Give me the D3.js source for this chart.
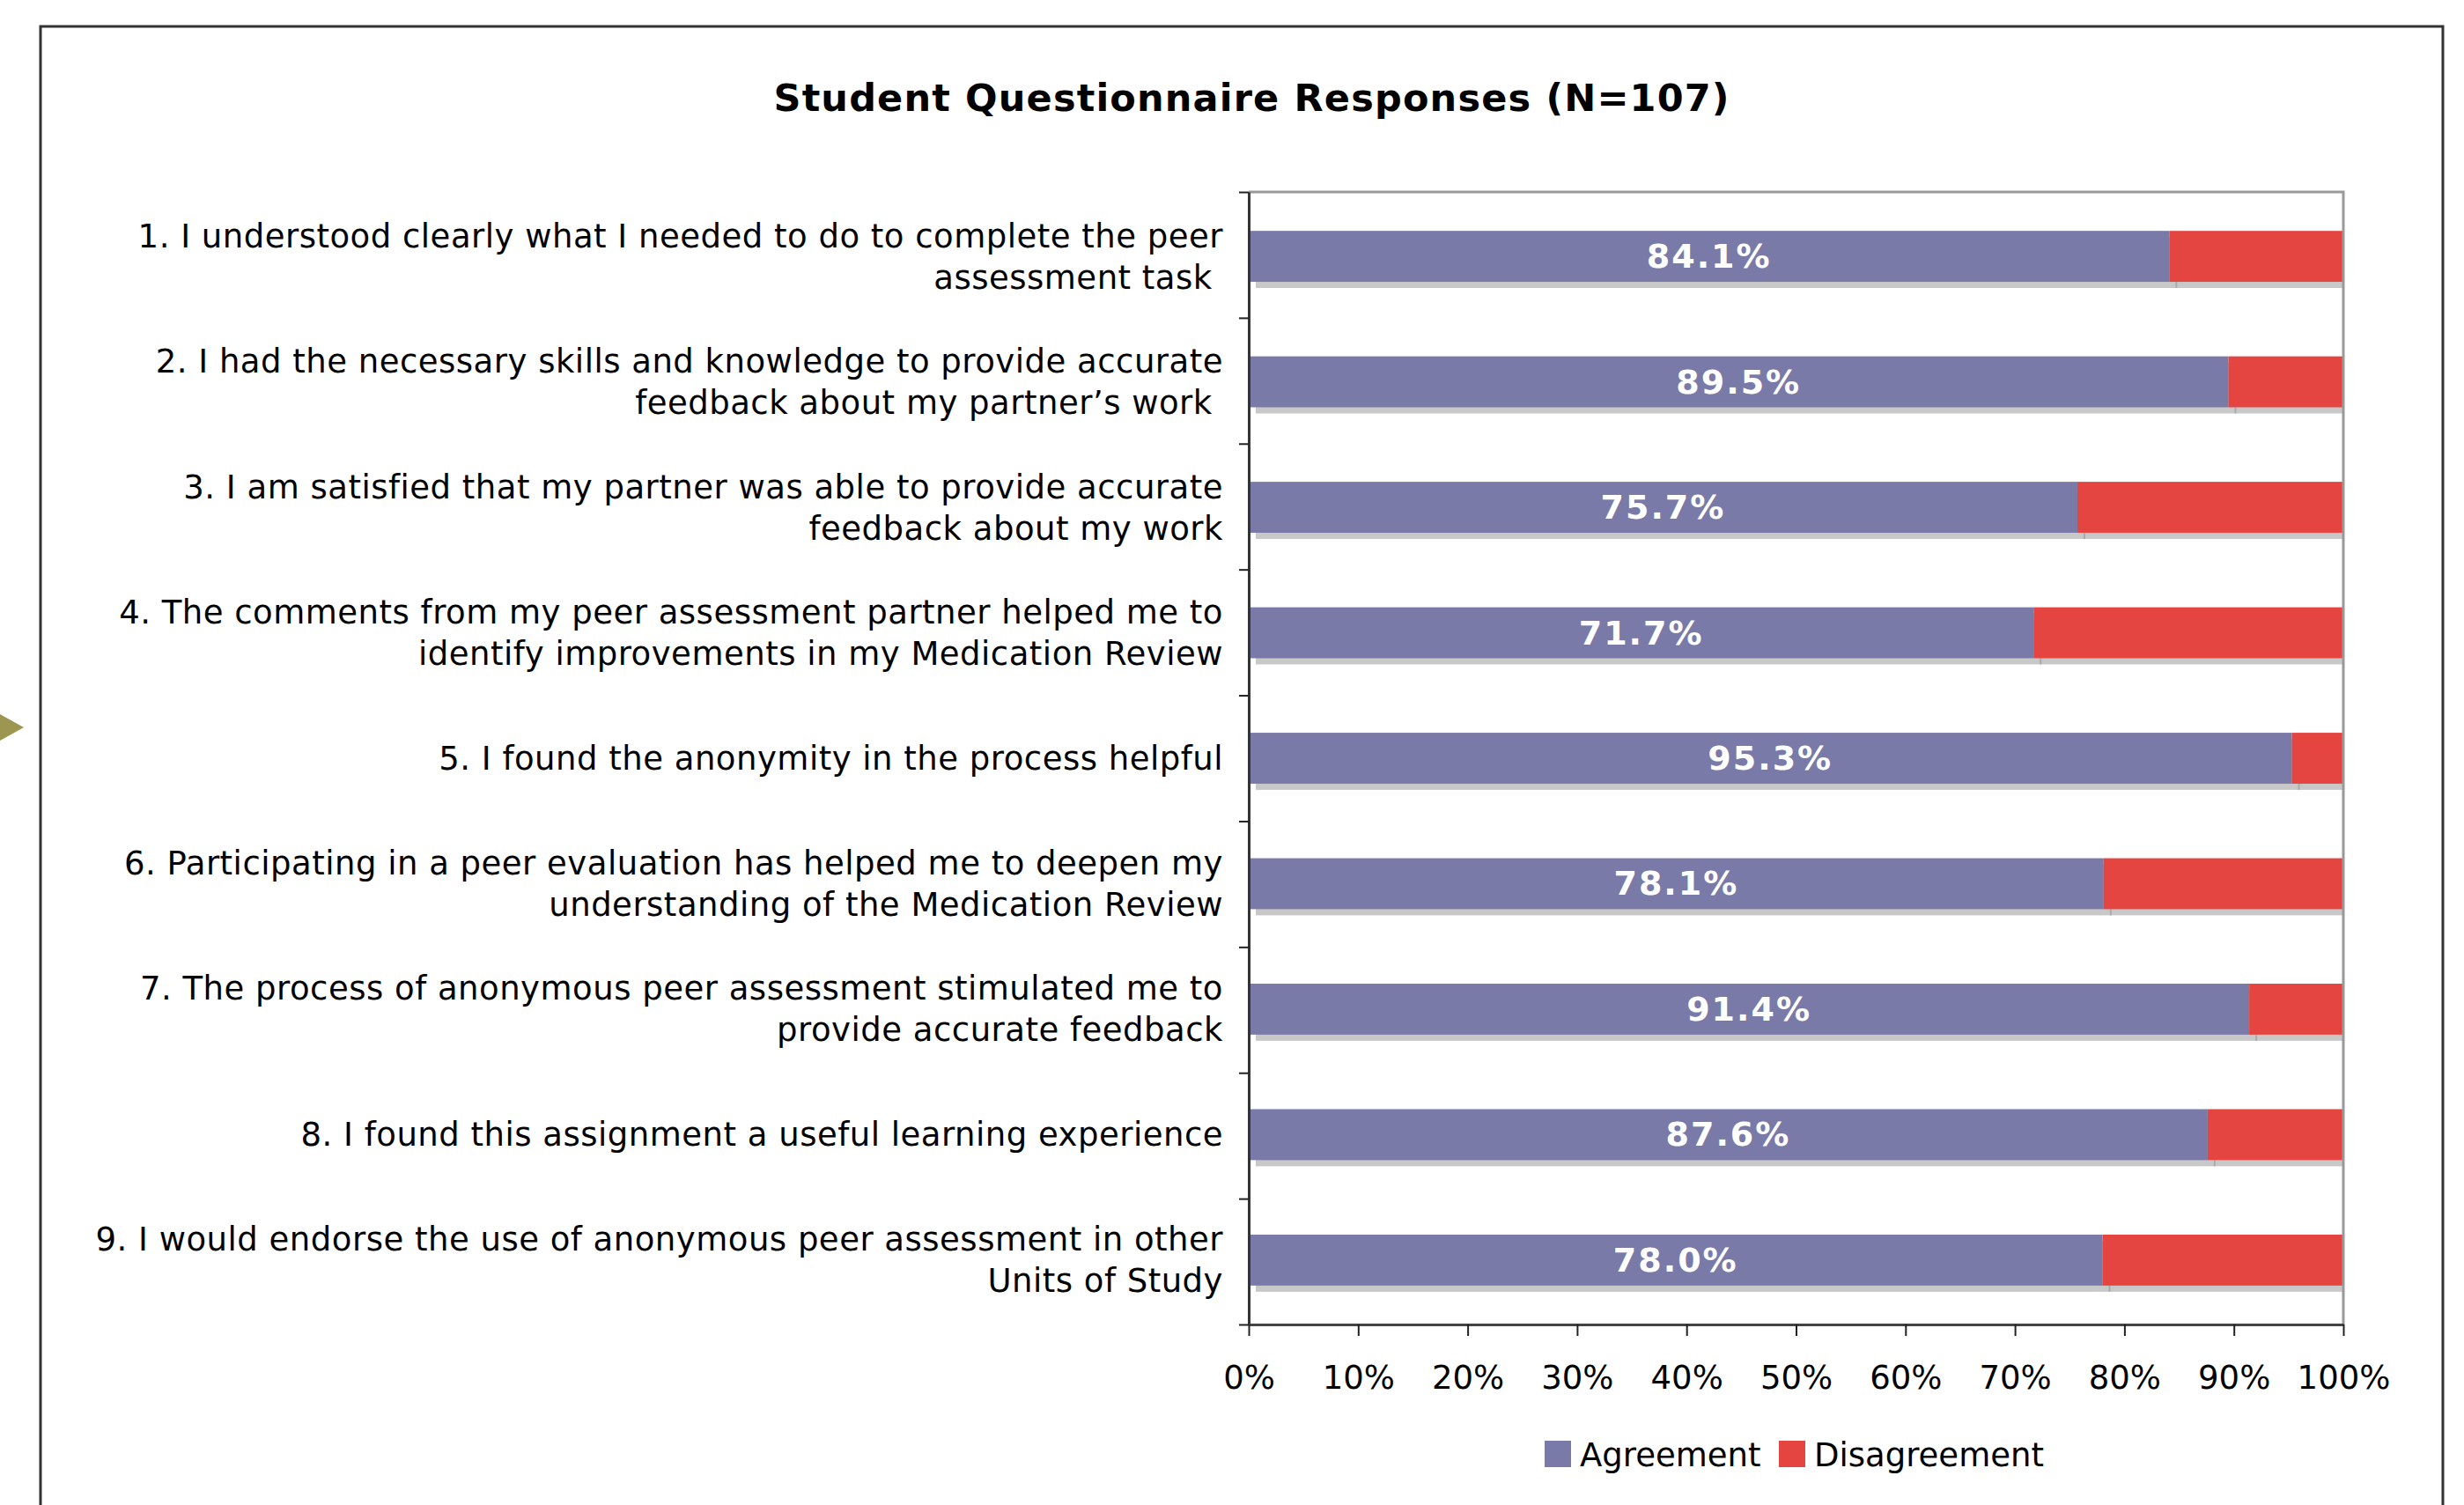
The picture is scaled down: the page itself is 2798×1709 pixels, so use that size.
<!DOCTYPE html>
<html>
<head>
<meta charset="utf-8">
<script src="https://cdn.jsdelivr.net/npm/d3@7"></script>
<style>
    body { margin: 0; background: #fff; }
    text { font-family: "DejaVu Sans", Verdana, sans-serif; }
    .cat-label { white-space: pre; }
</style>
</head>
<body>
<div id="chart"></div>
<script>
// questionnaire items, each split into its printed lines
const questions = [
    ["1. I understood clearly what I needed to do to complete the peer", "assessment task "],
    ["2. I had the necessary skills and knowledge to provide accurate", "feedback about my partner\u2019s work "],
    ["3. I am satisfied that my partner was able to provide accurate", "feedback about my work"],
    ["4. The comments from my peer assessment partner helped me to", "identify improvements in my Medication Review"],
    ["5. I found the anonymity in the process helpful"],
    ["6. Participating in a peer evaluation has helped me to deepen my", "understanding of the Medication Review"],
    ["7. The process of anonymous peer assessment stimulated me to", "provide accurate feedback"],
    ["8. I found this assignment a useful learning experience"],
    ["9. I would endorse the use of anonymous peer assessment in other", "Units of Study"]
];
const agreement = [84.1, 89.5, 75.7, 71.7, 95.3, 78.1, 91.4, 87.6, 78.0];
const disagreement = [15.9, 10.5, 24.3, 28.3, 4.7, 21.9, 8.6, 12.4, 22.0];
const seriesNames = ["Agreement", "Disagreement"];
const xTicks = [0, 10, 20, 30, 40, 50, 60, 70, 80, 90, 100];
const title = "Student Questionnaire Responses (N=107)";

const colors = {Agreement: "#7a7aa8", Disagreement: "#e54541"};

const width = 2798, height = 1709;
const plot = {left: 1418, right: 2661, top: 218, bottom: 1504};

const svg = d3.select("#chart").append("svg")
    .attr("width", width)
    .attr("height", height);

svg.append("rect")
    .attr("width", width)
    .attr("height", height)
    .attr("fill", "#fff");

// outer frame (bottom edge runs off the picture)
svg.append("rect")
    .attr("x", 46)
    .attr("y", 30)
    .attr("width", 2728)
    .attr("height", 1720)
    .attr("fill", "none")
    .attr("stroke", "#333")
    .attr("stroke-width", 3);

// little olive marker on the left edge
svg.append("path")
    .attr("d", "M0,811L27,826L0,841Z")
    .attr("fill", "#9c9650");

// Verdana bold is wider than DejaVu, stretch the title to the original width
svg.append("text")
    .attr("x", 1421)
    .attr("y", 126)
    .attr("text-anchor", "middle")
    .attr("font-size", 43)
    .attr("font-weight", "bold")
    .attr("textLength", 1085)
    .attr("lengthAdjust", "spacing")
    .text(title);

const ids = questions.map((q, i) => i);

const x = d3.scaleLinear()
    .domain([0, 100])
    .range([plot.left, plot.right]);

const y = d3.scaleBand()
    .domain(ids)
    .range([plot.top, plot.bottom])
    .paddingInner(0.594)
    .paddingOuter(0.31);

const yIndex = d3.scaleLinear()
    .domain([0, ids.length])
    .range([plot.top, plot.bottom]);

const rows = ids.map(i => ({
    id: i,
    segments: [
        {name: "Agreement", x0: 0, x1: agreement[i]},
        {name: "Disagreement", x0: agreement[i], x1: agreement[i] + disagreement[i]}
    ]
}));

svg.append("clipPath")
    .attr("id", "plot-clip")
    .append("rect")
    .attr("x", plot.left)
    .attr("y", plot.top)
    .attr("width", plot.right - plot.left - 1)
    .attr("height", plot.bottom - plot.top);

// drop shadows under the bars
const shadows = svg.append("g").attr("clip-path", "url(#plot-clip)");
rows.forEach(r => {
    r.segments.forEach(s => {
        shadows.append("rect")
            .attr("x", x(s.x0) + 8)
            .attr("y", y(r.id) + 7)
            .attr("width", x(s.x1) - x(s.x0))
            .attr("height", y.bandwidth())
            .attr("fill", "#c8c8c8");
    });
    shadows.append("line")
        .attr("x1", x(r.segments[0].x1) + 8)
        .attr("x2", x(r.segments[0].x1) + 8)
        .attr("y1", y(r.id) + y.bandwidth())
        .attr("y2", y(r.id) + y.bandwidth() + 7)
        .attr("stroke", "#aaa")
        .attr("stroke-width", 2);
});

const barGroups = svg.append("g").selectAll("g")
    .data(rows)
    .join("g");

barGroups.selectAll("rect")
    .data(r => r.segments.map(s => Object.assign({id: r.id}, s)))
    .join("rect")
    .attr("x", d => x(d.x0))
    .attr("y", d => y(d.id))
    .attr("width", d => x(d.x1) - x(d.x0))
    .attr("height", y.bandwidth())
    .attr("fill", d => colors[d.name]);

barGroups.append("text")
    .attr("x", r => (x(r.segments[0].x0) + x(r.segments[0].x1)) / 2)
    .attr("y", r => y(r.id) + y.bandwidth() / 2 + 13)
    .attr("text-anchor", "middle")
    .attr("font-size", 38)
    .attr("font-weight", "bold")
    .attr("letter-spacing", 2)
    .attr("fill", "#fff")
    .text(r => d3.format(".1f")(agreement[r.id]) + "%");

// plot frame: top and right edges
svg.append("path")
    .attr("d", `M${plot.left},${plot.top}H${plot.right}V${plot.bottom}`)
    .attr("fill", "none")
    .attr("stroke", "#999")
    .attr("stroke-width", 3);

// category axis
const yAxis = svg.append("g")
    .attr("transform", `translate(${plot.left},0)`)
    .call(d3.axisLeft(yIndex)
        .tickValues(d3.range(ids.length + 1))
        .tickSize(11)
        .tickSizeOuter(0)
        .tickFormat(""));
yAxis.select(".domain").attr("stroke", "#333").attr("stroke-width", 3);
yAxis.selectAll(".tick line").attr("stroke", "#222").attr("stroke-width", 2);

// value axis
const xAxis = svg.append("g")
    .attr("transform", `translate(0,${plot.bottom})`)
    .call(d3.axisBottom(x)
        .tickValues(xTicks)
        .tickSize(13)
        .tickSizeOuter(0)
        .tickPadding(34)
        .tickFormat(d => d + "%"));
xAxis.select(".domain").attr("stroke", "#444").attr("stroke-width", 3);
xAxis.selectAll(".tick line").attr("stroke", "#222").attr("stroke-width", 2);
xAxis.selectAll(".tick text")
    .attr("font-size", 37)
    .attr("font-family", "DejaVu Sans, Verdana, sans-serif")
    .attr("fill", "#000");

// question labels
const lineGap = 47;
const labels = svg.append("g");
rows.forEach(r => {
    const lines = questions[r.id];
    const cy = y(r.id) + y.bandwidth() / 2;
    const t = labels.append("text")
        .attr("class", "cat-label")
        .attr("text-anchor", "end")
        .attr("font-size", 37)
        .attr("letter-spacing", 0.5)
        .attr("fill", "#000");
    lines.forEach((line, k) => {
        t.append("tspan")
            .attr("x", 1389)
            .attr("y", cy + 13 + (k - (lines.length - 1) / 2) * lineGap)
            .text(line);
    });
});

// legend
const legendX = [1754, 2020];
const legend = svg.append("g");
seriesNames.forEach((name, i) => {
    legend.append("rect")
        .attr("x", legendX[i])
        .attr("y", 1636)
        .attr("width", 30)
        .attr("height", 30)
        .attr("fill", colors[name]);
    legend.append("text")
        .attr("x", legendX[i] + 40)
        .attr("y", 1665)
        .attr("font-size", 37)
        .text(name);
});
</script>
</body>
</html>
